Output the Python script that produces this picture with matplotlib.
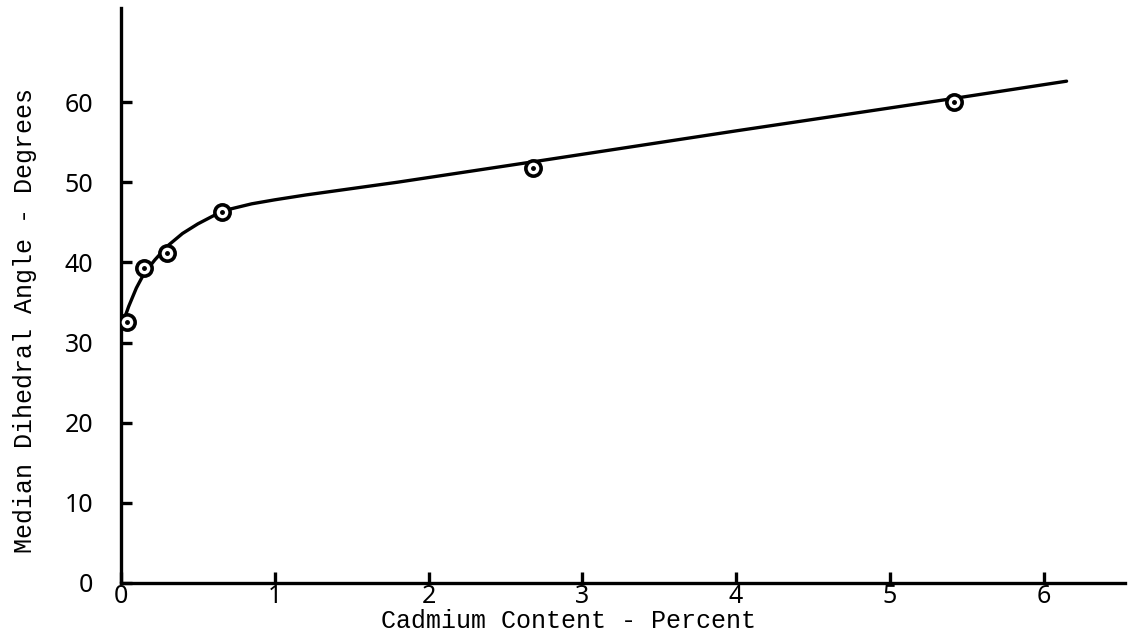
import matplotlib.pyplot as plt

# Measured points (cadmium %, median dihedral angle in degrees)
cd_pct = [0.04, 0.15, 0.30, 0.66, 2.68, 5.42]
angle = [32.5, 39.3, 41.2, 46.3, 51.8, 60.0]

# Points
curve_x = [0.0, 0.05, 0.10, 0.15, 0.22, 0.30, 0.40, 0.50, 0.60, 0.70, 0.85, 1.0, 1.2, 1.5, 1.8, 2.7, 4.0, 5.4, 6.15]
curve_y = [31.8, 34.5, 36.8, 38.6, 40.3, 42.0, 43.6, 44.8, 45.8, 46.6, 47.3, 47.8, 48.4, 49.2, 50.0, 52.6, 56.4, 60.4, 62.6]

x_ticks = [0, 1, 2, 3, 4, 5, 6]
y_ticks = [0, 10, 20, 30, 40, 50, 60]

fig = plt.figure(figsize=(11.35, 6.33), dpi=100)
ax = fig.add_axes([0.1066, 0.079, 0.8846, 0.908])

ax.plot(curve_x, curve_y, color='black', lw=2.4, solid_capstyle='round', zorder=2)
ax.plot(cd_pct, angle, 'o', ms=11, mfc='white', mec='black', mew=2.6, zorder=3)
ax.plot(cd_pct, angle, 'o', ms=2.5, mfc='black', mec='black', zorder=4)

ax.set_xlim(0, 6.53)
ax.set_ylim(0, 71.7)

for side in ['top', 'right']:
    ax.spines[side].set_visible(False)
for side in ['left', 'bottom']:
    ax.spines[side].set_linewidth(2.4)

ax.set_xticks(x_ticks)
ax.set_yticks(y_ticks)
ax.tick_params(axis='both', direction='in', length=8, width=2.4, labelsize=18)
ax.tick_params(axis='x', pad=1)
ax.tick_params(axis='y', pad=20)
for lbl in ax.get_xticklabels() + ax.get_yticklabels():
    lbl.set_family('Noto Sans')
    lbl.set_fontweight('light')

ax.set_xlabel('Cadmium Content - Percent', family='Liberation Mono', fontsize=18, va='center')
ax.xaxis.set_label_coords(0.446, -0.066)
ax.set_ylabel('Median Dihedral Angle - Degrees', family='Liberation Mono', fontsize=18, va='center')
ax.yaxis.set_label_coords(-0.096, 0.457)

fig.savefig('out.png', dpi=100)
